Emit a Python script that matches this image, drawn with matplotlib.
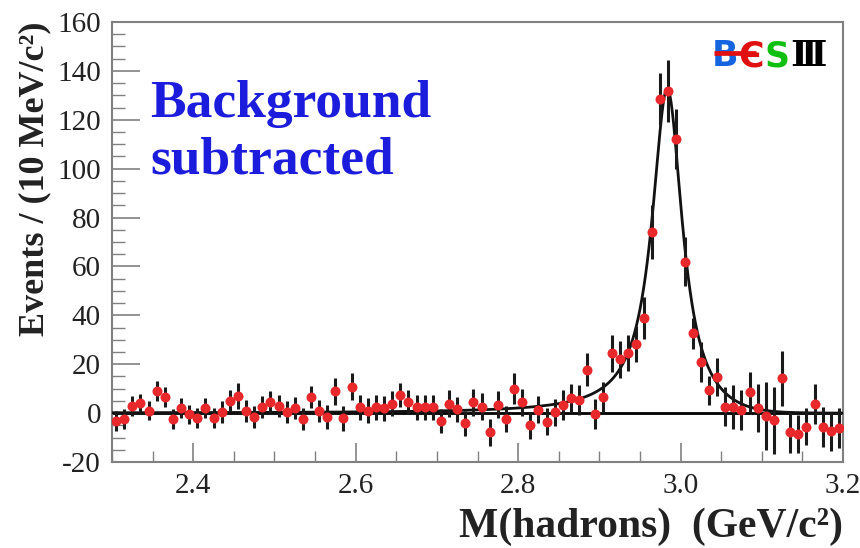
import numpy as np
import matplotlib
matplotlib.use("Agg")
import matplotlib.pyplot as plt
from matplotlib.ticker import MultipleLocator, FixedLocator
from matplotlib import font_manager

plt.rcParams["axes.unicode_minus"] = False

# ---- data (background subtracted M(hadrons) spectrum, 10 MeV bins) ----
bin_lo, bin_w, n_bins = 2.30, 0.01, 90
mass = np.round(bin_lo + bin_w * (np.arange(n_bins) + 0.5), 4)

events = [
    -3.2, -2.5, 3.0, 4.0, 1.0, 9.0, 6.5, -2.5, 2.0, -0.5,
    -2.0, 2.0, -2.0, 0.5, 5.0, 7.0, 1.0, -1.5, 2.5, 4.5,
    3.0, 0.5, 2.0, -2.5, 6.5, 1.0, -1.5, 9.0, -2.2, 10.8,
    2.3, 1.0, 2.3, 1.9, 3.9, 7.5, 4.5, 2.3, 2.3, 2.3,
    -3.2, 3.9, 1.5, -4.2, 4.5, 2.7, -7.9, 3.5, -2.4, 10.0,
    4.5, -5.0, 1.4, -3.5, 0.4, 3.3, 6.0, 5.4, 17.7, -0.3,
    6.4, 24.5, 22.0, 24.6, 28.3, 38.9, 74.0, 128.6, 131.7, 112.0,
    62.0, 32.6, 21.0, 9.3, 14.6, 2.7, 2.4, 1.2, 8.7, 2.0,
    -1.1, -3.0, 14.2, -7.9, -8.4, -5.5, 3.8, -5.7, -7.5, -6.0,
]
errors = [
    4.0, 4.0, 4.0, 4.0, 4.0, 4.0, 4.0, 4.0, 4.0, 4.0,
    4.0, 4.0, 4.0, 4.5, 4.5, 5.5, 4.5, 4.5, 4.5, 4.5,
    4.5, 4.5, 4.5, 4.5, 4.5, 4.5, 5.0, 5.5, 5.0, 5.5,
    5.0, 5.0, 5.0, 5.0, 5.0, 5.0, 5.0, 5.0, 5.0, 5.0,
    5.0, 5.5, 5.0, 5.0, 5.5, 5.5, 5.5, 5.5, 5.5, 6.3,
    5.5, 5.5, 5.5, 5.5, 5.5, 6.0, 6.0, 6.0, 6.7, 6.0,
    6.5, 7.6, 7.5, 7.5, 7.5, 8.7, 11.0, 10.6, 12.8, 12.3,
    10.0, 6.5, 8.2, 6.0, 7.8, 7.8, 8.9, 8.2, 8.3, 9.9,
    14.0, 13.7, 11.3, 8.5, 7.8, 7.5, 8.2, 8.2, 7.8, 8.2,
]

# fit-curve parameters (peak amplitude, mass, half width, high-mass cutoff)
fit_amp, fit_m0, fit_hw = 138.5, 2.984, 0.0228
cut_m, cut_w = 3.071, 0.0278

x_ticks = [2.4, 2.6, 2.8, 3.0, 3.2]
x_ticklabels = ["2.4", "2.6", "2.8", "3.0", "3.2"]
y_ticks = [-20, 0, 20, 40, 60, 80, 100, 120, 140, 160]

SERIF = ["Liberation Serif", "DejaVu Serif"]
installed = {f.name for f in font_manager.fontManager.ttflist}
if "Liberation Sans Narrow" in installed:
    LOGO_FONT, LOGO_FS = ["Liberation Sans Narrow", "DejaVu Sans"], 31
else:
    LOGO_FONT, LOGO_FS = ["DejaVu Sans"], 25

fig = plt.figure(figsize=(8.6, 5.48), dpi=100)
ax = fig.add_axes([112 / 860, 1 - 462 / 548, (843 - 112) / 860, (462 - 22) / 548])

# zero line
ax.axhline(0, color="black", lw=2.0, zorder=2)

# fit curve
mm = np.linspace(2.3, 3.2, 1200)
curve = fit_amp / (1 + ((mm - fit_m0) / fit_hw) ** 2) / (1 + np.exp((mm - cut_m) / cut_w))
ax.plot(mm, curve, color="#111111", lw=2.0, zorder=3)

# data points
ax.errorbar(mass, events, yerr=errors, fmt="none", ecolor="#1a1a1a", elinewidth=2.2, capsize=0, zorder=4)
ax.plot(mass, events, "o", color="#e8282b", ms=7.2, mec="none", zorder=5)

ax.set_xlim(2.3, 3.2)
ax.set_ylim(-20, 160)

ax.xaxis.set_major_locator(FixedLocator(x_ticks))
ax.set_xticklabels(x_ticklabels)
ax.xaxis.set_minor_locator(MultipleLocator(0.05))
ax.yaxis.set_major_locator(FixedLocator(y_ticks))
ax.yaxis.set_minor_locator(MultipleLocator(5))

for sp in ax.spines.values():
    sp.set_color("#808080")
    sp.set_linewidth(1.5)

ax.tick_params(which="both", direction="in", top=False, right=False, color="#808080")
ax.tick_params(axis="y", which="major", length=20, width=1.2, labelsize=21, pad=8)
ax.tick_params(axis="y", which="minor", length=9, width=1.0)
ax.tick_params(axis="x", which="major", length=14, width=1.2, labelsize=21, pad=8)
ax.tick_params(axis="x", which="minor", length=8, width=1.0)
for lab in ax.get_xticklabels() + ax.get_yticklabels():
    lab.set_family(SERIF)
    lab.set_color("#222222")

ax.set_xlabel("M(hadrons)  (GeV/c²)", family=SERIF, fontsize=30,
              fontweight="bold", color="#222222", loc="right", labelpad=6)
ax.set_ylabel("Events / (10 MeV/c²)", family=SERIF, fontsize=26,
              fontweight="bold", color="#222222", loc="top", labelpad=4)

ax.text(0.052, 0.75, "Background\nsubtracted", transform=ax.transAxes, family=SERIF,
        fontsize=38.5, fontweight="bold", color="#1c1cdc", linespacing=1.22, va="center", ha="left")

# BESIII logo
ly = (462 - 53) / 440
def axx(px):
    return (px - 112) / 731
ax.plot([axx(714), axx(756)], [ly, ly], transform=ax.transAxes, color="#e01010", lw=3.4,
        solid_capstyle="butt", zorder=7)
ax.text(axx(725), ly, "B", transform=ax.transAxes, family=LOGO_FONT, fontsize=LOGO_FS,
        fontweight="bold", color="#1565e0", ha="center", va="center_baseline", zorder=6)
ax.text(axx(751), ly, "Є", transform=ax.transAxes, family=LOGO_FONT, fontsize=LOGO_FS,
        fontweight="bold", color="#e01010", ha="center", va="center_baseline", zorder=6)
ax.text(axx(777), ly, "S", transform=ax.transAxes, family=LOGO_FONT, fontsize=LOGO_FS,
        fontweight="bold", color="#10c010", ha="center", va="center_baseline", zorder=6)
ax.text(axx(808), ly, "Ⅲ", transform=ax.transAxes, family=["DejaVu Serif", "DejaVu Sans"],
        fontsize=LOGO_FS + 1, fontweight="bold", color="black", ha="center", va="center_baseline", zorder=6)

fig.savefig("out.png", dpi=100)
